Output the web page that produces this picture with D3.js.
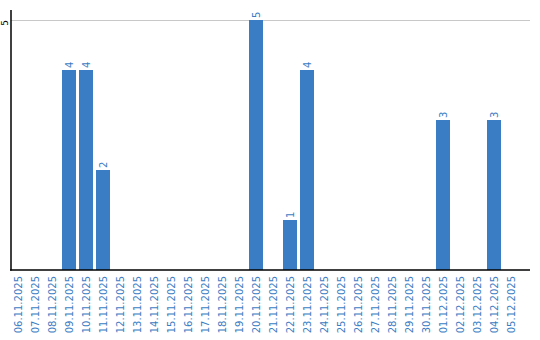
<!DOCTYPE html>
<html>
<head>
<meta charset="utf-8">
<script src="https://cdn.jsdelivr.net/npm/d3@7"></script>
<style>
  body { margin: 0; background: #fff; }
  text { font-family: "DejaVu Sans", sans-serif; }
</style>
</head>
<body>
<div id="chart"></div>
<script>
const days = ["06.11.2025", "07.11.2025", "08.11.2025", "09.11.2025", "10.11.2025",
  "11.11.2025", "12.11.2025", "13.11.2025", "14.11.2025", "15.11.2025",
  "16.11.2025", "17.11.2025", "18.11.2025", "19.11.2025", "20.11.2025",
  "21.11.2025", "22.11.2025", "23.11.2025", "24.11.2025", "25.11.2025",
  "26.11.2025", "27.11.2025", "28.11.2025", "29.11.2025", "30.11.2025",
  "01.12.2025", "02.12.2025", "03.12.2025", "04.12.2025", "05.12.2025"];
const counts = [0, 0, 0, 4, 4, 2, 0, 0, 0, 0,
  0, 0, 0, 0, 5, 0, 1, 4, 0, 0,
  0, 0, 0, 0, 0, 3, 0, 0, 3, 0];
const yTicks = [5];

const width = 540, height = 340;
const blue = "#3b7dc4";

const svg = d3.select("#chart").append("svg")
  .attr("width", width)
  .attr("height", height);

const x = d3.scaleBand()
  .domain(days)
  .range([9.5, 519.5])
  .paddingInner(0.18)
  .paddingOuter(0.09);

const y = d3.scaleLinear()
  .domain([0, 5])
  .range([270, 20]);

// grid line
svg.append("g")
  .selectAll("line")
  .data(yTicks)
  .join("line")
    .attr("x1", 11).attr("x2", 530)
    .attr("y1", d => y(d) + 0.5).attr("y2", d => y(d) + 0.5)
    .attr("stroke", "#c8c8c8");

// bars
const data = days.map((d, i) => ({ day: d, n: counts[i] })).filter(d => d.n > 0);

svg.append("g")
  .attr("fill", blue)
  .selectAll("rect")
  .data(data)
  .join("rect")
    .attr("x", d => Math.round(x(d.day)))
    .attr("y", d => y(d.n))
    .attr("width", 14)
    .attr("height", d => y(0) - y(d.n));

// value labels
svg.append("g")
  .selectAll("text")
  .data(data)
  .join("text")
    .attr("transform", d => `translate(${Math.round(x(d.day)) + 7 + 3.5},${y(d.n) - 2}) rotate(-90)`)
    .attr("fill", blue)
    .attr("font-size", "10px")
    .text(d => d.n);

// x axis labels
svg.append("g")
  .selectAll("text")
  .data(days)
  .join("text")
    .attr("transform", d => `translate(${Math.round(x(d)) + 7 + 3.5},276) rotate(-90)`)
    .attr("text-anchor", "end")
    .attr("fill", blue)
    .attr("font-size", "10px")
    .text(d => d);

// y tick labels
svg.append("g")
  .selectAll("text")
  .data(yTicks)
  .join("text")
    .attr("transform", d => `translate(8,${y(d) + 3}) rotate(-90)`)
    .attr("text-anchor", "middle")
    .attr("fill", "#000")
    .attr("font-size", "9px")
    .text(d => d);

// axes lines
svg.append("line")
  .attr("x1", 11).attr("x2", 11)
  .attr("y1", 10).attr("y2", 270.5)
  .attr("stroke", "#000").attr("stroke-width", 1.5);
svg.append("line")
  .attr("x1", 10).attr("x2", 530)
  .attr("y1", 270).attr("y2", 270)
  .attr("stroke", "#000").attr("stroke-width", 1.5);
</script>
</body>
</html>
